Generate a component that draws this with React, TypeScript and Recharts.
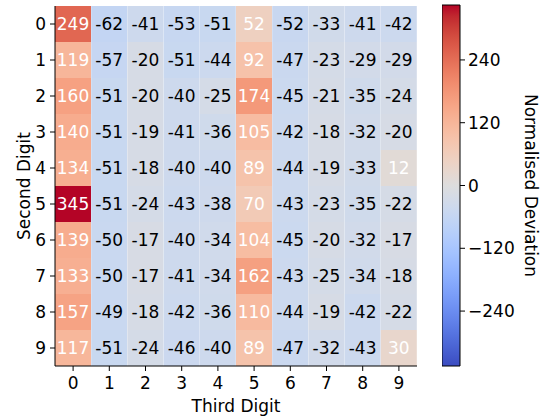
import { BarChart, Bar, XAxis, YAxis, Cell, LabelList } from "recharts";

// third digit along x, second digit down y
const thirdDigits = ["0", "1", "2", "3", "4", "5", "6", "7", "8", "9"];
const secondDigits = ["0", "1", "2", "3", "4", "5", "6", "7", "8", "9"];

// deviations[second][third]
const deviations = [
  [249, -62, -41, -53, -51, 52, -52, -33, -41, -42],
  [119, -57, -20, -51, -44, 92, -47, -23, -29, -29],
  [160, -51, -20, -40, -25, 174, -45, -21, -35, -24],
  [140, -51, -19, -41, -36, 105, -42, -18, -32, -20],
  [134, -51, -18, -40, -40, 89, -44, -19, -33, 12],
  [345, -51, -24, -43, -38, 70, -43, -23, -35, -22],
  [139, -50, -17, -40, -34, 104, -45, -20, -32, -17],
  [133, -50, -17, -41, -34, 162, -43, -25, -34, -18],
  [157, -49, -18, -42, -36, 110, -44, -19, -42, -22],
  [117, -51, -24, -46, -40, 89, -47, -32, -43, 30],
];

const colorTicks = [240, 120, 0, -120, -240];
const colorMin = -345;
const colorMax = 345;

const FONT = "'DejaVu Sans', sans-serif";
const FS = 17;

// matplotlib coolwarm, 33 steps
const coolwarm = [
  [59, 76, 192], [68, 90, 204], [77, 104, 215], [87, 117, 225], [98, 130, 234],
  [108, 142, 241], [119, 154, 247], [130, 165, 251], [141, 176, 254], [152, 185, 255],
  [163, 194, 255], [174, 201, 253], [184, 208, 249], [194, 213, 244], [204, 217, 238],
  [213, 219, 230], [221, 221, 221], [229, 216, 209], [236, 211, 197], [241, 204, 185],
  [245, 196, 173], [247, 187, 160], [247, 177, 148], [247, 166, 135], [244, 154, 123],
  [241, 141, 111], [236, 127, 99], [229, 112, 88], [222, 96, 77], [213, 80, 66],
  [203, 62, 56], [192, 40, 47], [180, 4, 38],
];

function cmap(t: number) {
  const tt = Math.max(0, Math.min(1, t));
  const pos = tt * (coolwarm.length - 1);
  const i = Math.min(Math.floor(pos), coolwarm.length - 2);
  const f = pos - i;
  const a = coolwarm[i];
  const b = coolwarm[i + 1];
  const c = a.map((v, k) => Math.round(v + (b[k] - v) * f));
  return `rgb(${c[0]},${c[1]},${c[2]})`;
}

const colorFor = (v: number) => cmap((v - colorMin) / (colorMax - colorMin));

const tableData = thirdDigits.map((digit, c) => {
  const row: any = { digit };
  secondDigits.forEach((_, r) => {
    row[`r${r}`] = 1;
    row[`v${r}`] = deviations[r][c];
  });
  return row;
});

const barData = [{ name: "cb", range: [colorMin, colorMax] }];

const tickStyle = { fill: "#000", fontSize: FS, fontFamily: FONT };
const labelStyle = { fill: "#000", fontSize: FS, fontFamily: FONT };

const CellLabel = (props: any) => {
  const { x, y, width, height, value } = props;
  return (
    <text
      x={x + width / 2}
      y={y + height / 2}
      textAnchor="middle"
      dominantBaseline="central"
      fill={value > 0 ? "#fff" : "#000"}
      fontSize={FS}
      fontFamily={FONT}
    >
      {value}
    </text>
  );
};

export default function App() {
  return (
    <div
      style={{
        position: "fixed",
        left: 0,
        top: 0,
        width: 540,
        height: 418,
        background: "#fff",
      }}
    >
      <div style={{ position: "absolute", left: 0, top: 0 }}>
        <BarChart
          width={540}
          height={418}
          data={tableData}
          barCategoryGap={0}
          margin={{ top: 6, right: 123, bottom: 0, left: 0 }}
        >
          <XAxis
            dataKey="digit"
            tick={tickStyle}
            tickLine={{ stroke: "#000" }}
            axisLine={{ stroke: "#000" }}
            tickSize={5}
            tickMargin={6}
            height={52}
            label={{ value: "Third Digit", position: "insideBottom", style: labelStyle, dy: -1 }}
          />
          <XAxis xAxisId="top" dataKey="digit" orientation="top" height={0} tick={false} tickLine={false} axisLine={{ stroke: "#000" }} />
          <YAxis
            type="number"
            domain={[0, 10]}
            reversed
            ticks={[0.5, 1.5, 2.5, 3.5, 4.5, 5.5, 6.5, 7.5, 8.5, 9.5]}
            tickFormatter={(v: number) => secondDigits[Math.floor(v)]}
            tick={tickStyle}
            tickLine={{ stroke: "#000" }}
            axisLine={{ stroke: "#000" }}
            tickSize={5}
            tickMargin={4}
            width={55}
            allowDataOverflow
            label={{ value: "Second Digit", angle: -90, position: "insideLeft", style: { ...labelStyle, textAnchor: "middle" }, dx: 19 }}
          />
          <YAxis yAxisId="right" orientation="right" width={0} domain={[0, 10]} tick={false} tickLine={false} axisLine={{ stroke: "#000" }} />
          {secondDigits.map((_, r) => (
            <Bar key={r} dataKey={`r${r}`} stackId="a" isAnimationActive={false}>
              {thirdDigits.map((_, c) => (
                <Cell key={c} fill={colorFor(deviations[r][c])} />
              ))}
              <LabelList dataKey={`v${r}`} content={CellLabel} />
            </Bar>
          ))}
        </BarChart>
      </div>
      <div style={{ position: "absolute", left: 442, top: 0 }}>
        <BarChart
          width={98}
          height={418}
          data={barData}
          barCategoryGap={0}
          margin={{ top: 5, right: 0, bottom: 52, left: 0 }}
        >
          <defs>
            <linearGradient id="cw" x1="0" y1="1" x2="0" y2="0">
              {coolwarm.map((c, i) => (
                <stop key={i} offset={i / (coolwarm.length - 1)} stopColor={`rgb(${c[0]},${c[1]},${c[2]})`} />
              ))}
            </linearGradient>
          </defs>
          <XAxis dataKey="name" hide />
          <YAxis
            orientation="right"
            type="number"
            domain={[colorMin, colorMax]}
            ticks={colorTicks}
            tickFormatter={(v: number) => (v < 0 ? "\u2212" + Math.abs(v) : String(v))}
            tick={tickStyle}
            tickLine={{ stroke: "#000" }}
            axisLine={false}
            tickSize={5}
            tickMargin={3}
            width={80}
            label={{ value: "Normalised Deviation", angle: 90, position: "insideRight", style: { ...labelStyle, textAnchor: "middle" }, dx: -4 }}
          />
          <Bar dataKey="range" fill="url(#cw)" stroke="#000" strokeWidth={1} isAnimationActive={false} />
        </BarChart>
      </div>
    </div>
  );
}
